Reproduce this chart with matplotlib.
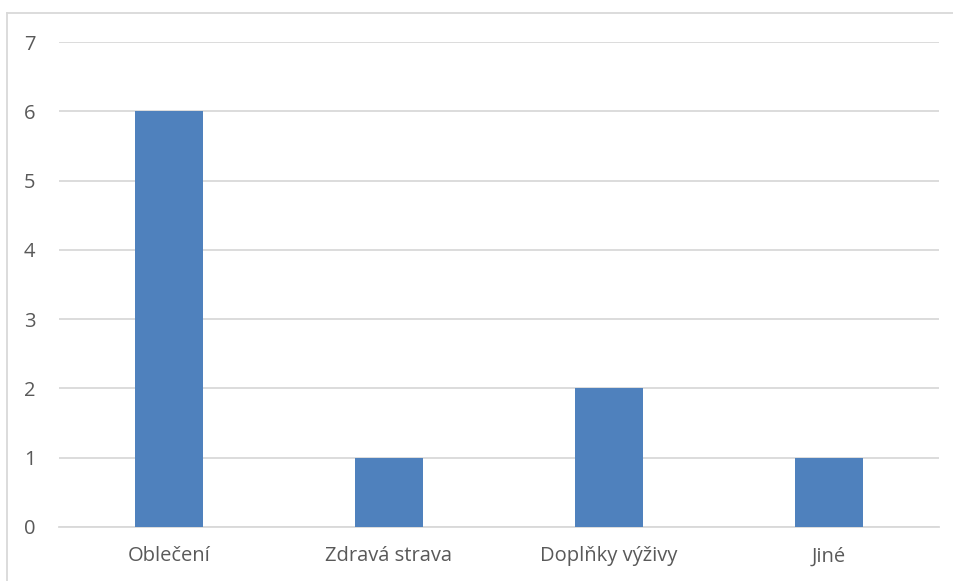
import matplotlib
matplotlib.use("Agg")
import matplotlib.pyplot as plt
from matplotlib.lines import Line2D

categories = ["Oblečení", "Zdravá strava", "Doplňky výživy", "Jiné"]
values = [6, 1, 2, 1]
y_ticks = [0, 1, 2, 3, 4, 5, 6, 7]

W, H = 954, 581
fig = plt.figure(figsize=(W / 100, H / 100), dpi=100)
plt.rcParams["font.family"] = ["Open Sans", "DejaVu Sans"]

ax = fig.add_axes([59 / W, (H - 527) / H, 880 / W, 485 / H])
x = range(len(categories))
ax.bar(x, values, width=0.31, color="#4F81BD", zorder=3)

ax.set_xlim(-0.5, len(categories) - 0.5)
ax.set_ylim(0, 7)
ax.set_yticks(y_ticks)
ax.set_xticks(list(x))
ax.set_xticklabels(categories)
ax.yaxis.grid(True, color="#D9D9D9", linewidth=1.3, zorder=0)
ax.tick_params(axis="both", length=0, labelsize=14.5, labelcolor="#595959")
ax.tick_params(axis="y", pad=17)
ax.tick_params(axis="x", pad=14)
for s in ["top", "right", "left"]:
    ax.spines[s].set_visible(False)
ax.spines["bottom"].set_color("#D9D9D9")
ax.spines["bottom"].set_linewidth(1.3)

# chart frame
fig.add_artist(Line2D([7.5 / W, 7.5 / W], [0, (H - 12.5) / H],
                      transform=fig.transFigure, color="#D9D9D9", linewidth=1.3))
fig.add_artist(Line2D([7.5 / W, 1], [(H - 12.5) / H, (H - 12.5) / H],
                      transform=fig.transFigure, color="#D9D9D9", linewidth=1.3))

fig.savefig("out.png", dpi=100)
